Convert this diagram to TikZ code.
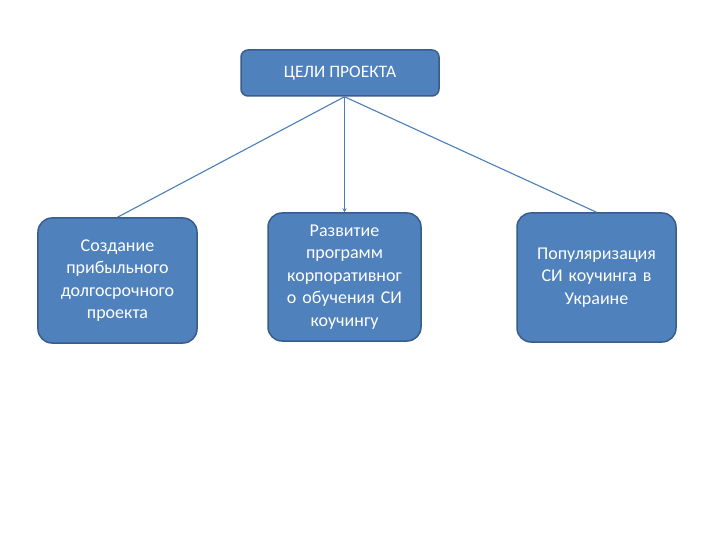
\documentclass[tikz,border=0pt]{standalone}
\usepackage{fontspec}
\setmainfont{Carlito}
\usetikzlibrary{arrows.meta}
\definecolor{goalfill}{RGB}{79,129,189}
\definecolor{goaledge}{RGB}{56,93,138}
\definecolor{linkblue}{RGB}{74,126,187}
\tikzset{
  goalbox/.style={draw=goaledge,line width=1.5bp,fill=goalfill,rounded corners=14bp,
    text=white,align=center,font=\fontsize{18bp}{22.5bp}\selectfont,inner sep=2bp},
  link/.style={draw=linkblue,line width=1.1bp},
}
\begin{document}
\begin{tikzpicture}[x=1bp,y=-1bp]
\useasboundingbox[fill=white] (0,0) rectangle (720,540);
  \node (goals) at (340,73) [goalbox,rounded corners=7bp,minimum width=198bp,minimum height=46bp,
    font=\fontsize{17.5bp}{21bp}\selectfont] {ЦЕЛИ ПРОЕКТА};
  \node (profit) at (117.5,280.5) [goalbox,minimum width=159bp,minimum height=125bp,text width=150bp]
    {Создание\\прибыльного\\долгосрочного\\проекта};
  \node (program) at (344.5,277) [goalbox,minimum width=153bp,minimum height=128bp,text width=148bp]
    {Развитие\\программ\\корпоративног\\о обучения СИ\\коучингу};
  \node (popular) at (596.5,277.5) [goalbox,minimum width=159bp,minimum height=129bp,text width=150bp]
    {Популяризация\\СИ коучинга в\\Украине};
  \coordinate (hub) at (goals.south -| program.north);
  \draw[link] (hub) -- (profit.north);
  \draw[link,-{Stealth[length=4bp,width=4bp]}] (hub) -- (program.north);
  \draw[link] (hub) -- (popular.north);
\end{tikzpicture}
\end{document}
